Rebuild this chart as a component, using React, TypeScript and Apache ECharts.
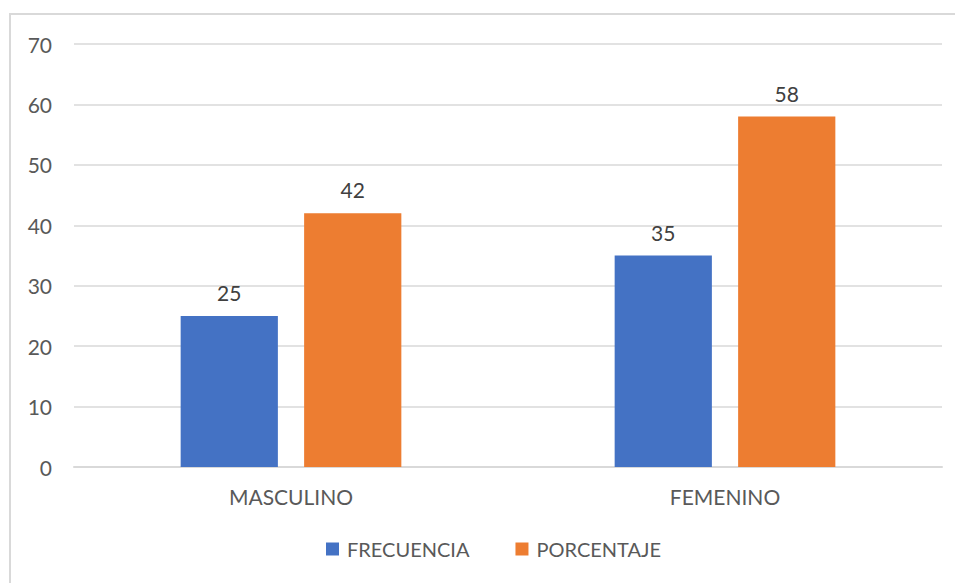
import React, { useEffect, useRef } from "react";
import * as echarts from "echarts";

const categories = ["MASCULINO", "FEMENINO"];
const frecuencia = [25, 35];
const porcentaje = [42, 58];
const seriesNames = ["FRECUENCIA", "PORCENTAJE"];

export default function App() {
  const ref = useRef<HTMLDivElement>(null);
  useEffect(() => {
    if (!ref.current) return;
    const chart = echarts.init(ref.current, undefined, { renderer: "svg" });
    const font = "Lato, 'Open Sans', sans-serif";
    chart.setOption({
      animation: false,
      textStyle: { fontFamily: font },
      graphic: [
        {
          type: "rect",
          shape: { x: 10, y: 14, width: 1000, height: 620 },
          style: { fill: "none", stroke: "#d9d9d9", lineWidth: 2 },
          silent: true,
        },
      ],
      grid: { left: 74, right: 13, top: 44, bottom: 116, containLabel: false },
      legend: {
        bottom: 19,
        left: 321,
        itemWidth: 13,
        itemHeight: 13,
        itemGap: 46,
        icon: "rect",
        textStyle: { fontSize: 20, color: "#595959", fontFamily: font, padding: [0, 0, 0, 3] },
        data: seriesNames,
      },
      xAxis: {
        type: "category",
        data: categories,
        axisLine: { lineStyle: { color: "#d9d9d9", width: 2 } },
        axisTick: { show: false },
        axisLabel: { fontSize: 21, color: "#595959", margin: 19, fontFamily: font },
      },
      yAxis: {
        type: "value",
        min: 0,
        max: 70,
        interval: 10,
        axisLine: { show: false },
        axisTick: { show: false },
        splitLine: { lineStyle: { color: "#d9d9d9", width: 1.5 } },
        axisLabel: { fontSize: 21, color: "#595959", margin: 22, fontFamily: font },
      },
      series: [
        {
          name: seriesNames[0],
          type: "bar",
          data: frecuencia,
          barWidth: "22.4%",
          barGap: "27%",
          itemStyle: { color: "#4472c4" },
          label: { show: true, position: "top", fontSize: 21, color: "#404040", distance: 13, fontFamily: font },
        },
        {
          name: seriesNames[1],
          type: "bar",
          data: porcentaje,
          barWidth: "22.4%",
          barGap: "27%",
          itemStyle: { color: "#ed7d31" },
          label: { show: true, position: "top", fontSize: 21, color: "#404040", distance: 13, fontFamily: font },
        },
      ],
    });
    return () => chart.dispose();
  }, []);
  return (
    <div
      ref={ref}
      style={{ position: "absolute", left: 0, top: 0, width: 955, height: 583, background: "#fff" }}
    />
  );
}
